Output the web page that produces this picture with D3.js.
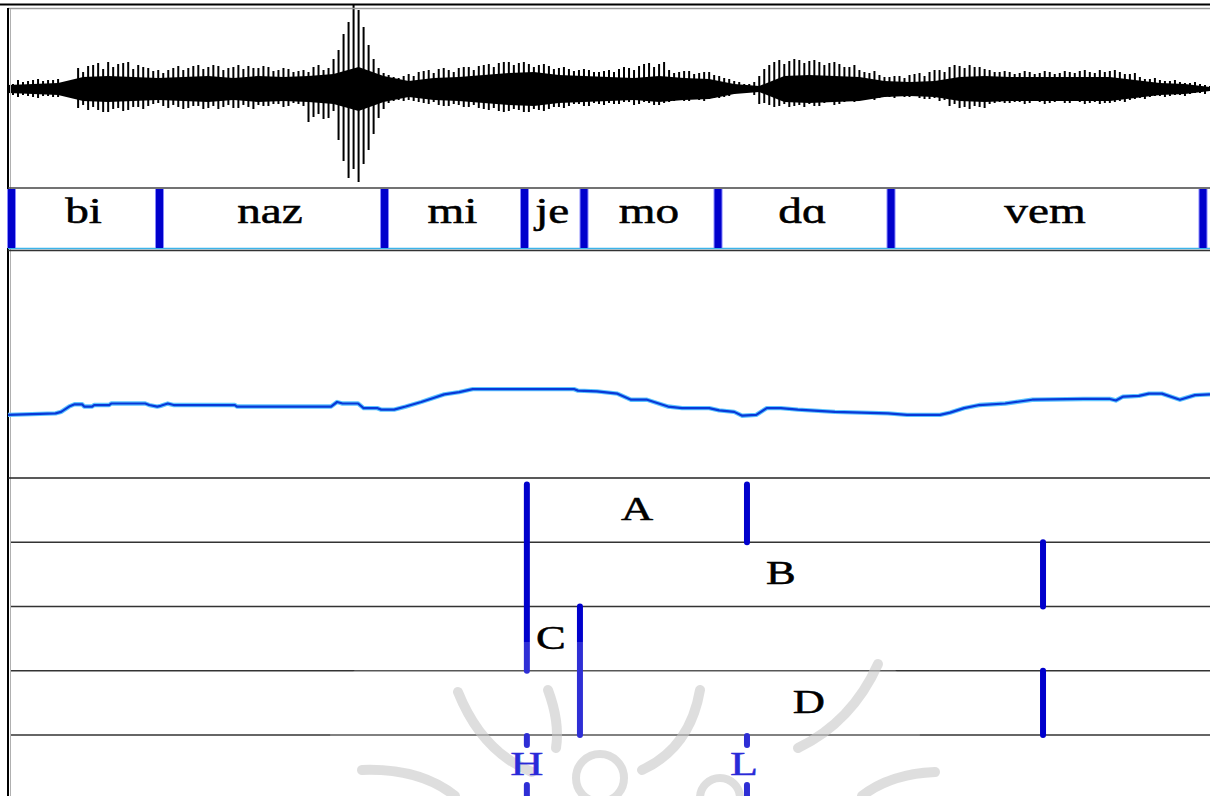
<!DOCTYPE html>
<html><head><meta charset="utf-8">
<script src="https://cdn.jsdelivr.net/npm/d3@7"></script>
<style>html,body{margin:0;padding:0;background:#fff;overflow:hidden}svg{display:block}</style>
</head><body>
<svg id="c" width="1210" height="796"></svg>
<script>
// ---------- data ----------
const syllables = ["bi","naz","mi","je","mo","dɑ","vem"];
const syllableBounds = [0.007,0.3025,0.7518,1.0313,1.1501,1.4177,1.7631,2.3860];

const pitchTime = [0,.095,.106,.122,.133,.148,.152,.168,.172,.202,.206,.274,.282,.298,.305,.319,.331,.453,.457,.645,.657,.668,.699,.710,.737,.745,.771,.794,.825,.848,.871,.901,.921,.928,1.130,1.138,1.176,1.217,1.244,1.276,1.318,1.346,1.400,1.420,1.450,1.466,1.494,1.515,1.543,1.577,1.651,1.757,1.795,1.861,1.881,1.909,1.939,1.991,2.045,2.148,2.200,2.212,2.226,2.258,2.278,2.304,2.340,2.370,2.400];
const pitchHz = [133,135,137,144,147,147,144,144,146,146,148,148,146,144,145,148,146,146,144,144,150,148,148,142,142,140,140,144,150,155,160,163,166,167,167,165,164,161,153,153,144,142,142,139,137,132,133,142,142,140,137,135,133,133,136,142,146,148,153,154,154,152,157,158,161,161,153,159,160];

// waveform pulse peaks, one pulse every 10 ms (a: on the 20 ms grid, b: halfway)
const waveTop = [.06,.09,.08,.10,.09,.10,.08,.21,.23,.26,
 .27,.25,.27,.24,.21,.19,.19,.23,.21,.24,
 .22,.23,.21,.24,.23,.21,.22,.19,.20,.18,
 .17,.24,.21,.39,.67,.79,.44,.21,.14,.11,
 .15,.17,.19,.20,.19,.21,.22,.23,.25,.26,
 .27,.26,.25,.24,.23,.21,.20,.19,.19,.17,
 .19,.20,.21,.23,.26,.25,.19,.17,.18,.16,
 .17,.13,.10,.07,.05,.13,.24,.29,.28,.29,
 .28,.27,.26,.25,.22,.19,.16,.14,.12,.13,
 .14,.16,.17,.19,.22,.23,.24,.22,.19,.17,
 .17,.16,.17,.16,.17,.16,.17,.18,.17,.19,
 .18,.17,.15,.12,.10,.09,.08,.07,.06,.05,
 .03];
const waveBottom = [.05,.08,.07,.09,.07,.08,.06,.19,.21,.21,
 .23,.19,.21,.18,.17,.14,.19,.18,.19,.17,
 .19,.20,.16,.19,.18,.16,.17,.15,.17,.15,
 .33,.25,.29,.51,.89,.93,.61,.29,.14,.11,
 .11,.13,.15,.16,.17,.16,.18,.19,.21,.22,
 .22,.21,.23,.21,.20,.18,.17,.15,.17,.15,
 .14,.15,.13,.15,.14,.16,.13,.11,.12,.11,
 .10,.09,.07,.04,.03,.15,.16,.17,.18,.16,
 .15,.17,.13,.15,.12,.11,.10,.09,.08,.07,
 .08,.09,.10,.12,.17,.19,.20,.18,.15,.13,
 .14,.13,.14,.13,.14,.12,.14,.13,.14,.15,
 .14,.12,.11,.09,.08,.07,.07,.06,.05,.04,
 .02];
const waveTopB = [.05,.07,.09,.08,.09,.07,.07,.17,.24,.20,
 .22,.26,.20,.22,.18,.16,.21,.19,.23,.20,
 .24,.19,.22,.20,.21,.23,.18,.21,.17,.19,
 .22,.19,.30,.55,.85,.62,.30,.16,.12,.13,
 .13,.18,.16,.21,.17,.22,.19,.24,.22,.27,
 .24,.27,.22,.25,.20,.22,.18,.20,.17,.18,
 .17,.22,.19,.25,.22,.27,.16,.18,.15,.17,
 .14,.11,.08,.05,.07,.20,.27,.25,.30,.26,
 .29,.24,.27,.22,.24,.17,.18,.12,.13,.11,
 .15,.13,.19,.17,.24,.21,.22,.20,.17,.18,
 .15,.18,.15,.18,.15,.18,.16,.19,.16,.17,
 .19,.15,.16,.10,.11,.08,.09,.06,.07,.04,
 .02];
const waveBottomB = [.06,.06,.08,.07,.08,.07,.07,.16,.18,.23,
 .20,.22,.18,.20,.15,.17,.16,.20,.17,.20,
 .17,.18,.19,.16,.20,.17,.15,.18,.14,.17,
 .28,.30,.22,.72,.80,.75,.45,.20,.12,.12,
 .12,.14,.13,.17,.15,.18,.16,.20,.19,.23,
 .20,.23,.20,.22,.18,.19,.15,.17,.14,.16,
 .15,.13,.16,.13,.16,.14,.12,.12,.10,.12,
 .09,.08,.05,.03,.06,.14,.18,.15,.17,.18,
 .17,.14,.16,.13,.13,.10,.11,.08,.09,.08,
 .07,.10,.09,.11,.15,.18,.17,.19,.14,.14,
 .13,.15,.12,.15,.13,.14,.12,.15,.13,.14,
 .13,.13,.10,.10,.07,.08,.06,.07,.04,.05,
 .02];
// dense core of the waveform, one value every 50 ms
const waveCore = [.04,.05,.06,.12,.13,.12,.11,.12,.13,.11,.13,.12,.13,.15,.22,.13,.08,.11,.12,.14,.16,.17,.14,.13,.12,.11,.13,.11,.10,.05,.03,.13,.14,.13,.12,.08,.07,.08,.12,.13,.12,.12,.12,.12,.12,.09,.06,.05,.02];

const tierNames = ["A","B","C","D"];
const tierLabelTime = [1.256,1.543,1.084,1.599];
const boundaryTime = [1.036,1.4755,1.142,2.0666,2.0666];
const boundaryFrom = [0,0,2,1,3];
const boundaryTo   = [3,1,4,2,4];
const toneLabels = ["H","L"];
const toneTime = [1.036,1.4755];

// ---------- scales ----------
const svg = d3.select("#c");
const x = d3.scaleLinear().domain([0,2.4]).range([8,1210]);
const waveY = d3.scaleLinear().domain([-1,1]).range([189,-11]);
const pitchY = d3.scaleLinear().domain([50,350]).range([478,250]);
const tierY = d3.scaleLinear().domain([0,4]).range([478,735]);
const SERIF = "'Liberation Serif','Times New Roman',serif";
const STRETCH = 1.35;

// ---------- waveform ----------
const wg = svg.append("g");
wg.append("line").attr("x1",10).attr("x2",1210).attr("y1",waveY(0)).attr("y2",waveY(0))
  .attr("stroke","#4fb3df").attr("stroke-width",1);
const coreArea = d3.area()
  .x((d,i)=>x(i*0.05))
  .y0(d=>waveY(-d)).y1(d=>waveY(d));
wg.append("path").datum(waveCore).attr("d",coreArea).attr("fill","#000");
const pulse = (tops,bots,offset,cls)=>{
  wg.selectAll("line."+cls).data(tops).join("line").attr("class",cls)
    .attr("x1",(d,i)=>x(i*0.02+offset)).attr("x2",(d,i)=>x(i*0.02+offset))
    .attr("y1",d=>waveY(d)).attr("y2",(d,i)=>waveY(-bots[i]))
    .attr("stroke","#000").attr("stroke-width",2);
};
pulse(waveTop,waveBottom,0,"pa");
pulse(waveTopB,waveBottomB,0.01,"pb");

// ---------- frame ----------
svg.append("line").attr("x1",0).attr("x2",1210).attr("y1",4.5).attr("y2",4.5).attr("stroke","#000").attr("stroke-width",2);
svg.append("line").attr("x1",8).attr("x2",1210).attr("y1",8.5).attr("y2",8.5).attr("stroke","#9a9a9a").attr("stroke-width",1.5);
svg.append("line").attr("x1",8).attr("x2",8).attr("y1",8).attr("y2",796).attr("stroke","#000").attr("stroke-width",2);
svg.append("line").attr("x1",10.5).attr("x2",10.5).attr("y1",9).attr("y2",796).attr("stroke","#b0b0b0").attr("stroke-width",1);

// ---------- syllable tier ----------
const sg = svg.append("g");
sg.append("line").attr("x1",8).attr("x2",1210).attr("y1",188).attr("y2",188).attr("stroke","#444").attr("stroke-width",1.6);
sg.append("line").attr("x1",8).attr("x2",1210).attr("y1",248.5).attr("y2",248.5).attr("stroke","#3cb4ea").attr("stroke-width",1.6);
sg.append("line").attr("x1",8).attr("x2",1210).attr("y1",250.5).attr("y2",250.5).attr("stroke","#333").attr("stroke-width",1.4);
sg.selectAll("rect.halo").data(syllableBounds).join("rect").attr("class","halo")
  .attr("x",d=>x(d)-4.5).attr("width",9).attr("y",189).attr("height",59).attr("fill","#8a8aff");
sg.selectAll("rect.bd").data(syllableBounds).join("rect").attr("class","bd")
  .attr("x",d=>x(d)-3.5).attr("width",7).attr("y",189).attr("height",59).attr("fill","#0000cc");
sg.selectAll("text").data(syllables).join("text")
  .attr("transform",(d,i)=>`translate(${(x(syllableBounds[i])+x(syllableBounds[i+1]))/2-2},223) scale(${STRETCH},1)`)
  .attr("text-anchor","middle").attr("font-family",SERIF).attr("font-size",35).attr("fill","#000")
  .attr("stroke","#000").attr("stroke-width",0.5)
  .text(d=>d);

// ---------- pitch ----------
const pitchLine = d3.line().x((d,i)=>x(pitchTime[i])).y(d=>pitchY(d));
svg.append("path").datum(pitchHz).attr("d",pitchLine).attr("fill","none")
  .attr("stroke","#5cc4ff").attr("stroke-width",4.4).attr("stroke-linejoin","round");
svg.append("path").datum(pitchHz).attr("d",pitchLine).attr("fill","none")
  .attr("stroke","#0838d8").attr("stroke-width",2.2).attr("stroke-linejoin","round");

// ---------- tiers ----------
const tg = svg.append("g");
tg.append("line").attr("x1",8).attr("x2",1210).attr("y1",tierY(0)).attr("y2",tierY(0)).attr("stroke","#222").attr("stroke-width",1.6);
tg.selectAll("line.tier").data(d3.range(1,5)).join("line").attr("class","tier")
  .attr("x1",11).attr("x2",1210).attr("y1",d=>tierY(d)).attr("y2",d=>tierY(d))
  .attr("stroke","#333").attr("stroke-width",1.6);
tg.selectAll("line.bnd").data(boundaryTime).join("line").attr("class","bnd")
  .attr("x1",d=>x(d)).attr("x2",d=>x(d))
  .attr("y1",(d,i)=>tierY(boundaryFrom[i])+(boundaryFrom[i]===0?6.5:0))
  .attr("y2",(d,i)=>tierY(boundaryTo[i]))
  .attr("stroke","#0000cc").attr("stroke-width",6).attr("stroke-linecap","round");
tg.selectAll("line.tone1").data(toneTime).join("line").attr("class","tone1")
  .attr("x1",d=>x(d)).attr("x2",d=>x(d)).attr("y1",tierY(4)+1).attr("y2",tierY(4)+10)
  .attr("stroke","#0000cc").attr("stroke-width",6).attr("stroke-linecap","round");
tg.selectAll("line.tone2").data(toneTime).join("line").attr("class","tone2")
  .attr("x1",d=>x(d)).attr("x2",d=>x(d)).attr("y1",tierY(4)+50).attr("y2",tierY(4)+70)
  .attr("stroke","#0000cc").attr("stroke-width",6).attr("stroke-linecap","round");

// ---------- faint watermark ----------
const wm = svg.append("g");
wm.append("rect").attr("x",330).attr("y",642).attr("width",590).attr("height",180).attr("rx",90)
  .attr("fill","#fff").attr("opacity",0.18);
const wmStroke = {stroke:"#c8c8c8", "stroke-width":10, fill:"none", "stroke-linecap":"round", opacity:0.6};
const wmPaths = ["M458,692 Q482,752 532,772","M548,690 Q560,722 556,748","M700,690 Q690,748 642,770",
  "M878,664 Q852,722 798,748","M362,770 Q420,768 455,796","M935,772 Q890,774 862,796"];
wmPaths.forEach(p=>{const e=wm.append("path").attr("d",p);Object.entries(wmStroke).forEach(([k,v])=>e.attr(k,v));});
[[600,778,24],[720,798,20]].forEach(c=>{
  const e=wm.append("circle").attr("cx",c[0]).attr("cy",c[1]).attr("r",c[2]);
  Object.entries(wmStroke).forEach(([k,v])=>e.attr(k,v)); e.attr("stroke-width",8);
});

// ---------- labels ----------
svg.selectAll("text.tier").data(tierNames).join("text").attr("class","tier")
  .attr("transform",(d,i)=>`translate(${x(tierLabelTime[i])},${tierY(i+0.5)+10}) scale(${STRETCH},1)`)
  .attr("text-anchor","middle").attr("font-family",SERIF).attr("font-size",33).attr("fill","#000")
  .attr("stroke","#000").attr("stroke-width",0.5)
  .text(d=>d);
svg.selectAll("text.tone").data(toneLabels).join("text").attr("class","tone")
  .attr("transform",(d,i)=>`translate(${x(toneTime[i])-(i?3:0)},775) scale(${STRETCH},1)`)
  .attr("text-anchor","middle").attr("font-family",SERIF).attr("font-size",34).attr("fill","#2a2ad8")
  .attr("stroke","#2a2ad8").attr("stroke-width",0.4)
  .text(d=>d);
</script>
</body></html>
